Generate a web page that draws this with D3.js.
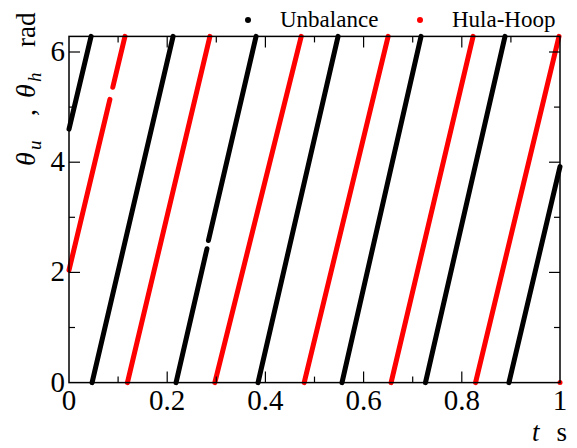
<!DOCTYPE html>
<html>
<head>
<meta charset="utf-8">
<script src="https://cdn.jsdelivr.net/npm/d3@7/dist/d3.min.js"></script>
<style>
  body { margin: 0; background: #fff; }
</style>
</head>
<body>
<svg id="chart" width="577" height="448" font-family="'Liberation Serif', 'Times New Roman', serif"></svg>
<script>
// Axis ticks
const xTicks = [0, 0.2, 0.4, 0.6, 0.8, 1];
const xMinorTicks = [0.1, 0.3, 0.5, 0.7, 0.9];
const yTicks = [0, 2, 4, 6];
const yMinorTicks = [1, 3, 5];

// Series
const seriesNames = ["Unbalance", "Hula-Hoop"];
const seriesColors = ["#000000", "#ff0000"];

// Rotation angle of the unbalance mass, continuous stretches of samples: [t (s), angle (rad)]
const unbalanceRuns = [
  [[0.000, 4.60], [0.045, 6.283]],
  [[0.047, 0.00], [0.212, 6.283]],
  [[0.218, 0.00], [0.281, 2.43]],
  [[0.284, 2.58], [0.381, 6.283]],
  [[0.385, 0.00], [0.548, 6.283]],
  [[0.556, 0.00], [0.717, 6.283]],
  [[0.726, 0.00], [0.888, 6.283]],
  [[0.896, 0.00], [1.000, 3.92]]
];

// Rotation angle of the hula-hoop, continuous stretches of samples: [t (s), angle (rad)]
const hulaHoopRuns = [
  [[0.000, 2.04], [0.0833, 5.14]],
  [[0.0892, 5.36], [0.114, 6.283]],
  [[0.119, 0.00], [0.287, 6.283]],
  [[0.297, 0.00], [0.473, 6.283]],
  [[0.479, 0.00], [0.650, 6.283]],
  [[0.656, 0.00], [0.823, 6.283]],
  [[0.828, 0.00], [0.998, 6.283]],
  [[1.000, 0.00], [1.000, 0.00]]
];

const svg = d3.select("#chart");
const plotLeft = 69, plotRight = 560, plotTop = 36.4, plotBottom = 382.6;

const x = d3.scaleLinear().domain([0, 1]).range([plotLeft, plotRight]);
const y = d3.scaleLinear().domain([0, 2 * Math.PI]).range([plotBottom, plotTop]);

const line = d3.line().x(d => x(d[0])).y(d => y(d[1]));

// Data runs
[unbalanceRuns, hulaHoopRuns].forEach((runs, i) => {
  svg.append("g")
    .selectAll("path")
    .data(runs)
    .join("path")
    .attr("d", line)
    .attr("fill", "none")
    .attr("stroke", seriesColors[i])
    .attr("stroke-width", 5)
    .attr("stroke-linecap", "round");
});

// Frame
svg.append("rect")
  .attr("x", plotLeft).attr("y", plotTop)
  .attr("width", plotRight - plotLeft).attr("height", plotBottom - plotTop)
  .attr("fill", "none").attr("stroke", "#000").attr("stroke-width", 1.5);

// Inward ticks on all four sides
const tickG = svg.append("g").attr("stroke", "#000").attr("stroke-width", 1.2);
function hTicks(vals, len) {
  vals.forEach(v => {
    tickG.append("line").attr("x1", x(v)).attr("x2", x(v)).attr("y1", plotBottom).attr("y2", plotBottom - len);
    tickG.append("line").attr("x1", x(v)).attr("x2", x(v)).attr("y1", plotTop).attr("y2", plotTop + len);
  });
}
function vTicks(vals, len) {
  vals.forEach(v => {
    tickG.append("line").attr("y1", y(v)).attr("y2", y(v)).attr("x1", plotLeft).attr("x2", plotLeft + len);
    tickG.append("line").attr("y1", y(v)).attr("y2", y(v)).attr("x1", plotRight).attr("x2", plotRight - len);
  });
}
hTicks(xTicks.slice(1, -1), 11);
hTicks(xMinorTicks, 6);
vTicks(yTicks.slice(1), 11);
vTicks(yMinorTicks, 6);

// Tick labels
svg.append("g").selectAll("text").data(xTicks).join("text")
  .attr("x", d => x(d)).attr("y", 410)
  .attr("text-anchor", "middle").attr("font-size", 29)
  .text(d => d3.format("~g")(d));
svg.append("g").selectAll("text").data(yTicks).join("text")
  .attr("x", 65).attr("y", d => y(d) + 9)
  .attr("text-anchor", "end").attr("font-size", 29)
  .text(d => d);

// Axis titles
svg.append("text").attr("x", 532).attr("y", 441).attr("font-size", 27)
  .attr("font-style", "italic").text("t");
svg.append("text").attr("x", 567).attr("y", 441).attr("font-size", 27)
  .attr("text-anchor", "end").text("s");

const yTitle = svg.append("g").attr("transform", "translate(35,0) rotate(-90)");
const yPieces = [
  { text: "θ", at: 166, size: 28, italic: true, sub: false },
  { text: "u", at: 150, size: 19, italic: true, sub: true },
  { text: ",", at: 116, size: 28, italic: false, sub: false },
  { text: "θ", at: 98, size: 28, italic: true, sub: false },
  { text: "h", at: 82, size: 19, italic: true, sub: true },
  { text: "rad", at: 47, size: 27, italic: false, sub: false }
];
yTitle.selectAll("text").data(yPieces).join("text")
  .attr("x", d => -d.at)
  .attr("y", d => d.sub ? 6 : 0)
  .attr("font-size", d => d.size)
  .attr("font-style", d => d.italic ? "italic" : "normal")
  .text(d => d.text);

// Legend
const legendX = [248, 420];
seriesNames.forEach((name, i) => {
  svg.append("circle").attr("cx", legendX[i]).attr("cy", 20).attr("r", 3).attr("fill", seriesColors[i]);
  svg.append("text").attr("x", legendX[i] + 32).attr("y", 27).attr("font-size", 23).text(name);
});
</script>
</body>
</html>
